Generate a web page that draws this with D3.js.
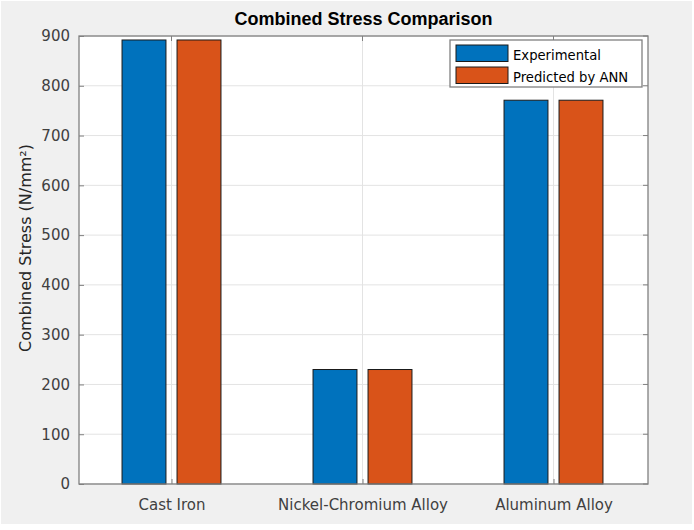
<!DOCTYPE html>
<html><head><meta charset="utf-8">
<script src="https://cdn.jsdelivr.net/npm/d3@7"></script>
<style>body{margin:0;background:#fff;} svg{display:block;font-family:"DejaVu Sans",sans-serif;}</style>
</head><body><svg id="c" width="694" height="530"></svg>
<script>
const categories = ["Cast Iron", "Nickel-Chromium Alloy", "Aluminum Alloy"];
const seriesNames = ["Experimental", "Predicted by ANN"];
const experimental = [892, 230, 771];
const predicted = [892, 230, 771];
const yTicks = [0,100,200,300,400,500,600,700,800,900];
const colors = ["#0072BD", "#D95319"];

const svg = d3.select("#c");
const L = 79, R = 648, T = 36, B = 484;
svg.append("rect").attr("width",694).attr("height",530).attr("fill","#fff");
svg.append("rect").attr("x",1).attr("y",1).attr("width",691).attr("height",523).attr("fill","#f0f0f0");
svg.append("rect").attr("x",L).attr("y",T).attr("width",R-L).attr("height",B-T).attr("fill","#fff");

const x = d3.scaleLinear().domain([0.5, 3.5]).range([76, 649]);
const y = d3.scaleLinear().domain([0, 900]).range([B, T]);

// grid
const g = svg.append("g");
yTicks.forEach(t => g.append("line").attr("x1",L).attr("x2",R).attr("y1",y(t)).attr("y2",y(t)).attr("stroke","#e3e3e3").attr("stroke-width",1));
categories.forEach((c,i) => g.append("line").attr("x1",x(i+1)).attr("x2",x(i+1)).attr("y1",T).attr("y2",B).attr("stroke","#e3e3e3").attr("stroke-width",1));

const series = [experimental, predicted];
const offset = 0.144, bw = 0.23;
series.forEach((vals, s) => {
  svg.append("g").selectAll("rect").data(vals).join("rect")
    .attr("x", (d,i) => x(i+1 + (s===0?-offset:offset) - bw/2))
    .attr("width", x(1+bw) - x(1))
    .attr("y", d => y(d))
    .attr("height", d => y(0) - y(d))
    .attr("fill", colors[s]).attr("stroke","#1a1a1a").attr("stroke-width",1);
});

// axes
const ya = svg.append("g").attr("transform",`translate(${L},0)`)
  .call(d3.axisLeft(y).tickValues(yTicks).tickSize(-5).tickPadding(9).tickFormat(d3.format("d")));
const xa = svg.append("g").attr("transform",`translate(0,${B})`)
  .call(d3.axisBottom(x).tickValues([1,2,3]).tickSize(-5).tickPadding(15).tickFormat((d,i)=>categories[i]));
[ya, xa].forEach(a => {
  a.select(".domain").remove();
  a.selectAll("line").attr("stroke","#808080");
  a.selectAll("text").attr("fill","#404040").style("font-size","15px").style("font-family","DejaVu Sans, sans-serif");
});
// box
svg.append("rect").attr("x",L).attr("y",T).attr("width",R-L).attr("height",B-T).attr("fill","none").attr("stroke","#808080").attr("stroke-width",1.3);
// top/right ticks
[1,2,3].forEach(v => svg.append("line").attr("x1",x(v)).attr("x2",x(v)).attr("y1",T).attr("y2",T+5).attr("stroke","#808080"));
yTicks.forEach(t => svg.append("line").attr("x1",R).attr("x2",R-5).attr("y1",y(t)).attr("y2",y(t)).attr("stroke","#808080"));

// title
svg.append("text").attr("x",(L+R)/2).attr("y",25).attr("text-anchor","middle")
  .style("font-family","Liberation Sans, Arial, sans-serif")
  .style("font-size","18px").style("font-weight","bold").attr("fill","#000").text("Combined Stress Comparison");
// y label
svg.append("text").attr("transform",`translate(31,248) rotate(-90)`).attr("text-anchor","middle")
  .style("font-size","16px").attr("fill","#262626").text("Combined Stress (N/mm²)");

// legend
const lg = svg.append("g");
lg.append("rect").attr("x",450).attr("y",40).attr("width",192).attr("height",47).attr("fill","#fff").attr("stroke","#808080").attr("stroke-width",1.3);
seriesNames.forEach((n,i) => {
  lg.append("rect").attr("x",456).attr("y",45+i*22).attr("width",52).attr("height",16.5).attr("fill",colors[i]).attr("stroke","#1a1a1a");
  lg.append("text").attr("x",513).attr("y",59.5+i*22).style("font-size","13.2px").attr("fill","#000").text(n);
});
</script></body></html>
